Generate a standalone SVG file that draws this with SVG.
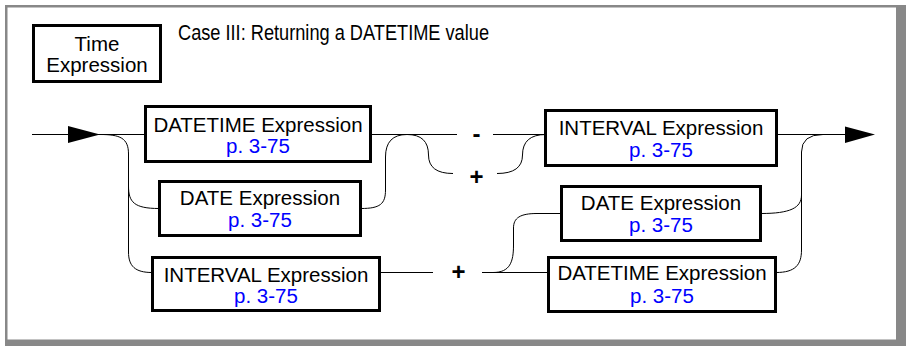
<svg xmlns="http://www.w3.org/2000/svg" width="907" height="346" viewBox="0 0 907 346">
<style>
.box{fill:#fff;stroke:#000;stroke-width:3}
.lbl{font-family:"Liberation Sans",Arial,sans-serif;font-size:20.5px;fill:#000;text-anchor:middle}
.ref{font-family:"Liberation Sans",Arial,sans-serif;font-size:20.5px;fill:#0000ff;text-anchor:middle}
.op{font-family:"Liberation Sans",Arial,sans-serif;font-weight:bold;font-size:24px;fill:#000;text-anchor:middle}
.ttl{font-family:"Liberation Sans Narrow","Liberation Sans",Arial,sans-serif;font-size:22px;fill:#000}
.ln{fill:none;stroke:#000;stroke-width:1}
.frame{fill:#888}
</style>
<g id="frame">
<rect class="frame" x="5" y="5" width="891" height="2.5"/>
<rect class="frame" x="5" y="5" width="2.5" height="335"/>
<rect class="frame" x="896" y="5" width="10" height="341"/>
<rect class="frame" x="5" y="339.5" width="901" height="6.5"/>
</g>
<g id="title">
<rect class="box" x="33.5" y="25.5" width="127" height="56"/>
<text class="lbl" x="97" y="51">Time</text>
<text class="lbl" x="97" y="72">Expression</text>
<text class="ttl" x="178" y="40" textLength="311" lengthAdjust="spacingAndGlyphs">Case III: Returning a DATETIME value</text>
</g>
<g id="connectors">
<path class="ln" d="M32,134.5 H145"/>
<polygon points="68,126 100,134.5 68,143" fill="#000"/>
<path class="ln" d="M100,134.5 C120,134.5 128.5,138 128.5,154 V252 C128.5,266 135,272.5 152,272.5"/>
<path class="ln" d="M128.5,186 C128.5,202 134,208.5 159,208.5"/>
<path class="ln" d="M371,134.5 H457"/>
<path class="ln" d="M361,208.5 C380,208.5 385.5,204 385.5,190 V157 Q385.5,134.5 407,134.5"/>
<path class="ln" d="M407,134.5 Q428.5,134.5 428.5,155 Q428.5,173.5 453,173.5"/>
<path class="ln" d="M493,134.5 H546"/>
<path class="ln" d="M497,173.5 Q522.5,173.5 522.5,155 Q522.5,134.5 546,134.5"/>
<path class="ln" d="M777,134.5 H846"/>
<polygon points="845,126.5 875,134.5 845,143" fill="#000"/>
<path class="ln" d="M761,213.5 C790,213.5 801.5,208 801.5,195 V152 Q801.5,134.5 823,134.5"/>
<path class="ln" d="M776,272.5 C795,272.5 801.5,265 801.5,250 V195"/>
<path class="ln" d="M380,272.5 H433"/>
<path class="ln" d="M482,272.5 H549"/>
<path class="ln" d="M493,272.5 C510,272.5 513.5,262 513.5,245 V228 C513.5,218 520,213.5 537,213.5 H562"/>
<text class="op" x="476.5" y="142">-</text>
<text class="op" x="476.5" y="185">+</text>
<text class="op" x="458.5" y="280">+</text>
</g>
<g id="datetime1">
<rect class="box" x="145.5" y="106.5" width="225" height="55"/>
<text class="lbl" x="258" y="132">DATETIME Expression</text>
<text class="ref" x="258" y="153">p. 3-75</text>
</g>
<g id="date1">
<rect class="box" x="159.5" y="181.5" width="201" height="54"/>
<text class="lbl" x="260" y="205">DATE Expression</text>
<text class="ref" x="260" y="227">p. 3-75</text>
</g>
<g id="interval1">
<rect class="box" x="152.5" y="257.5" width="227" height="53"/>
<text class="lbl" x="266" y="282">INTERVAL Expression</text>
<text class="ref" x="266" y="303">p. 3-75</text>
</g>
<g id="interval2">
<rect class="box" x="545.5" y="110.5" width="231" height="55"/>
<text class="lbl" x="661" y="135">INTERVAL Expression</text>
<text class="ref" x="661" y="157">p. 3-75</text>
</g>
<g id="date2">
<rect class="box" x="561.5" y="186.5" width="199" height="54"/>
<text class="lbl" x="661" y="210">DATE Expression</text>
<text class="ref" x="661" y="232">p. 3-75</text>
</g>
<g id="datetime2">
<rect class="box" x="548.5" y="257.5" width="227" height="54"/>
<text class="lbl" x="662" y="280">DATETIME Expression</text>
<text class="ref" x="662" y="303">p. 3-75</text>
</g>
</svg>
